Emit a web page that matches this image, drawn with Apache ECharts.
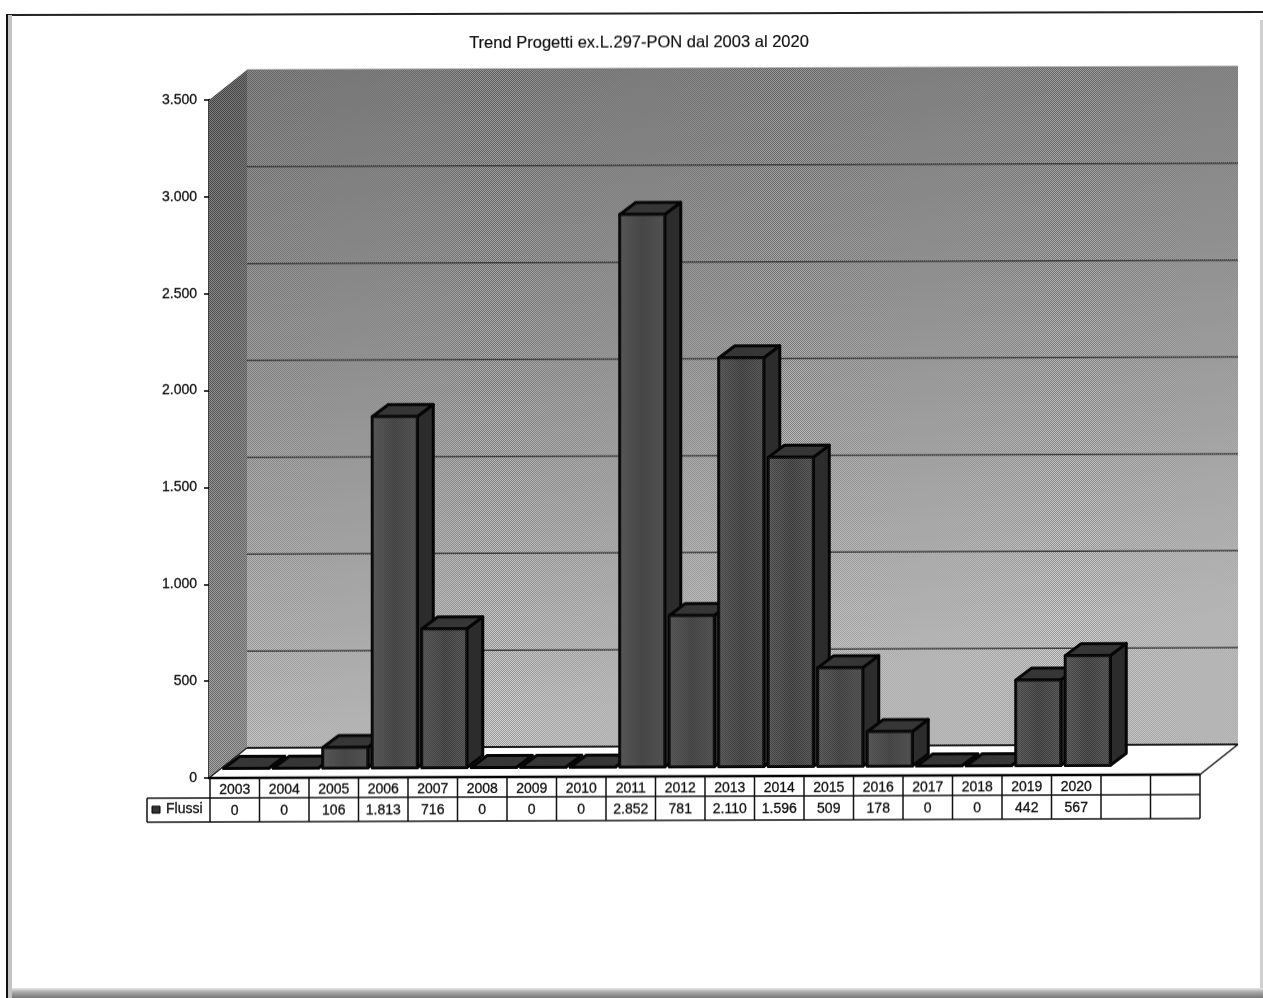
<!DOCTYPE html>
<html>
<head>
<meta charset="utf-8">
<style>
html,body{margin:0;padding:0;background:#fff;width:1263px;height:998px;overflow:hidden}
#frameTop{position:absolute;left:6px;top:14px;width:1257px;height:2px;background:#222;transform-origin:0 0;transform:rotate(-0.14deg)}
#frameLeft{position:absolute;left:6px;top:14px;width:2px;height:984px;background:#111}
#frameLeftShade{position:absolute;left:8px;top:15px;width:4px;height:983px;background:#c4c4c4}
#frameRight{position:absolute;left:1260px;top:20px;width:3px;height:978px;background:#d0d0d0}
#frameBottom{position:absolute;left:12px;top:988px;width:1251px;height:10px;background:linear-gradient(#e8e8e8,#aaa 40%,#777)}
#chart{position:absolute;left:0;top:0;width:1263px;height:998px;transform-origin:210px 778px;transform:skewY(-0.2deg)}
</style>
<script src="https://cdn.jsdelivr.net/npm/echarts@6/dist/echarts.min.js"></script>
</head>
<body>
<div id="frameTop"></div><div id="frameLeft"></div><div id="frameLeftShade"></div><div id="frameRight"></div><div id="frameBottom"></div>
<div id="chart"></div>
<script>
const chartTitle = 'Trend Progetti ex.L.297-PON dal 2003 al 2020';
const seriesName = 'Flussi';
const categories = ['2003','2004','2005','2006','2007','2008','2009','2010','2011','2012','2013','2014','2015','2016','2017','2018','2019','2020','',''];
const flussi = [0,0,106,1813,716,0,0,0,2852,781,2110,1596,509,178,0,0,442,567];
const valueLabels = ['0','0','106','1.813','716','0','0','0','2.852','781','2.110','1.596','509','178','0','0','442','567','',''];
const yTicks = [0,500,1000,1500,2000,2500,3000,3500];
const yTickLabels = ['0','500','1.000','1.500','2.000','2.500','3.000','3.500'];

const FONT = '"Liberation Sans", Arial, sans-serif';
const WALL_DX = 38, WALL_DY = -30, BAR_DX = 16, BAR_DY = -12, BAR_W = 45;

function checker(a){
  const c = document.createElement('canvas'); c.width = 2; c.height = 2;
  const g = c.getContext('2d');
  g.fillStyle = 'rgba(0,0,0,'+a+')'; g.fillRect(0,0,1,1); g.fillRect(1,1,1,1);
  g.fillStyle = 'rgba(255,255,255,'+a+')'; g.fillRect(1,0,1,1); g.fillRect(0,1,1,1);
  return {image:c, repeat:'repeat'};
}
const dither = checker(0.22), ditherBar = checker(0.1);
const vgrad = (a,b)=>({type:'linear',x:0,y:0,x2:0,y2:1,colorStops:[{offset:0,color:a},{offset:1,color:b}]});
const poly = (points,style,z2)=>({type:'polygon',shape:{points},style,z2:z2||0});
const line = (x1,y1,x2,y2,stroke,lineWidth)=>({type:'line',shape:{x1,y1,x2,y2},style:{stroke,lineWidth}});

function renderBackdrop(params, api){
  const cs = params.coordSys;
  const L = cs.x - 1, R = cs.x + cs.width;
  const top = api.coord([0,3500])[1], bot = api.coord([0,0])[1];
  const tl=[L+WALL_DX,top+WALL_DY], tr=[R+WALL_DX,top+WALL_DY], br=[R+WALL_DX,bot+WALL_DY], bl=[L+WALL_DX,bot+WALL_DY];
  const kids = [];
  const wall=[tl,tr,br,bl], side=[[L,top],tl,bl,[L,bot]], floor=[[L,bot],bl,br,[R,bot]];
  kids.push(poly(wall,{fill:{type:'linear',x:0,y:0,x2:0.1,y2:1,colorStops:[{offset:0,color:'#747474'},{offset:0.45,color:'#949494'},{offset:1,color:'#c4c4c4'}]}}));
  kids.push(poly(wall,{fill:dither}));
  kids.push(poly(side,{fill:vgrad('#545454','#8e8e8e')}));
  kids.push(poly(side,{fill:dither}));
  kids.push(poly(floor,{fill:'#ffffff'}));
  yTicks.slice(1,-1).forEach(v=>{
    const y = api.coord([0,v])[1] + WALL_DY;
    kids.push(line(tl[0],y,tr[0],y,'#3c3c3c',1.5));
  });
  kids.push(line(bl[0],bl[1],br[0],br[1],'#1c1c1c',2));
  kids.push(line(L,bot,bl[0],bl[1],'#222',1.5));
  kids.push(line(R,bot,br[0],br[1],'#111',1.5));
  kids.push(line(tl[0],tl[1],tr[0],tr[1],'#777',1));
  return {type:'group',children:kids};
}

function renderTable(params, api){
  const cs = params.coordSys;
  const L = cs.x, R = cs.x + cs.width, y0 = cs.y + cs.height;
  const y1 = y0 + 20, y2 = y0 + 44, keyL = L - 63;
  const kids = [];
  kids.push(line(L-2,y0,R,y0,'#000',2.5));
  kids.push(line(keyL,y1,R,y1,'#111',1.5));
  kids.push(line(keyL,y2,R,y2,'#111',1.5));
  kids.push(line(keyL,y1,keyL,y2,'#111',1.5));
  const band = api.size([1,0])[0];
  for(let i=0;i<=categories.length;i++){
    const x = api.coord([0,0])[0] - band/2 + i*band;
    kids.push(line(x,y0,x,y2,'#111',1.5));
  }
  kids.push({type:'rect',shape:{x:L-58,y:y1+8,width:8,height:7},style:{fill:'#333',stroke:'#000',lineWidth:1}});
  kids.push({type:'text',style:{text:seriesName,x:L-44,y:y1+4,fill:'#111',font:'14px '+FONT,stroke:'#222',lineWidth:0.3}});
  return {type:'group',children:kids};
}

function renderBar(params, api){
  const c = api.coord([api.value(0),api.value(1)]);
  const base = api.coord([api.value(0),0]);
  const x0 = c[0]-BAR_W/2+11.5, x1 = x0+BAR_W, yb = base[1]-9.5, yt = c[1]-9.5;
  const s = {stroke:'#050505',lineWidth:3,lineJoin:'round'};
  const side=[[x1,yt],[x1+BAR_DX,yt+BAR_DY],[x1+BAR_DX,yb+BAR_DY],[x1,yb]];
  const topF=[[x0,yt],[x0+BAR_DX,yt+BAR_DY],[x1+BAR_DX,yt+BAR_DY],[x1,yt]];
  const front=[[x0,yt],[x1,yt],[x1,yb],[x0,yb]];
  const kids=[];
  kids.push(poly(side,Object.assign({fill:'#2c2c2c'},s)));
  kids.push(poly(topF,Object.assign({fill:'#363636'},s)));
  kids.push(poly(front,Object.assign({fill:{type:'linear',x:0,y:0,x2:1,y2:0,colorStops:[{offset:0,color:'#525252'},{offset:0.5,color:'#404040'},{offset:1,color:'#4c4c4c'}]}},s)));
  if(yb-yt>4) kids.push(poly(front,{fill:ditherBar}));
  return {type:'group',children:kids};
}

const labelStyle = {color:'#111',fontFamily:FONT,fontSize:14,textBorderColor:'#222',textBorderWidth:0.3};
const chart = echarts.init(document.getElementById('chart'),null,{renderer:'canvas',width:1263,height:998});
chart.setOption({
  animation:false,
  backgroundColor:'transparent',
  title:{text:chartTitle,left:634,top:31,textAlign:'center',textStyle:{color:'#111',fontFamily:FONT,fontSize:16.5,fontWeight:'normal',textBorderColor:'#222',textBorderWidth:0.2}},
  grid:{left:210,top:100,width:990,height:678,containLabel:false},
  xAxis:[
    {type:'category',data:categories,position:'bottom',axisLine:{show:false},axisTick:{show:false},
     axisLabel:Object.assign({margin:5,interval:0},labelStyle)},
    {type:'category',data:valueLabels,position:'bottom',offset:21,axisLine:{show:false},axisTick:{show:false},
     axisLabel:Object.assign({margin:5,interval:0},labelStyle)}
  ],
  yAxis:{type:'value',min:0,max:3500,interval:500,offset:1,
    axisLine:{show:true,lineStyle:{color:'#000',width:2.5}},
    axisTick:{show:true,length:5,lineStyle:{color:'#000',width:1.5}},
    splitLine:{show:false},
    axisLabel:Object.assign({margin:12,formatter:v=>yTickLabels[yTicks.indexOf(v)]},labelStyle)},
  series:[
    {name:'backdrop',type:'custom',z:1,silent:true,data:[[0,0]],renderItem:renderBackdrop,clip:false,encode:{x:0,y:1}},
    {name:'table',type:'custom',z:2,silent:true,data:[[0,0]],renderItem:renderTable,clip:false,encode:{x:0,y:1}},
    {name:seriesName,type:'custom',z:3,data:flussi.map((v,i)=>[i,v]),renderItem:renderBar,clip:false,encode:{x:0,y:1}}
  ]
});
</script>
</body>
</html>
